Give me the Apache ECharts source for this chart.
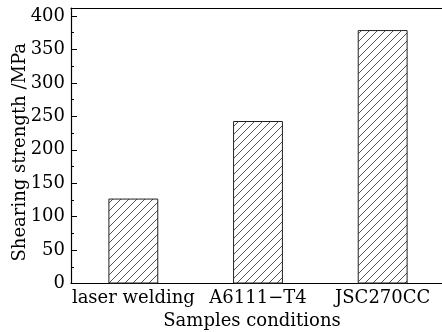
<!DOCTYPE html>
<html>
<head>
<meta charset="utf-8">
<script src="https://cdn.jsdelivr.net/npm/echarts@6/dist/echarts.min.js"></script>
<style>html,body{margin:0;padding:0;background:#fff}#c{width:442px;height:332px}</style>
</head>
<body>
<div id="c"></div>
<script>
const categories = ['laser welding', 'A6111\u2212T4', 'JSC270CC'];
const strengthValues = [127, 243, 379];
const yTickValues = [0, 50, 100, 150, 200, 250, 300, 350, 400];
const yAxisTitle = 'Shearing strength /MPa';
const xAxisTitle = 'Samples conditions';

const FONT = 'DejaVu Serif';

function hatch() {
  const c = document.createElement('canvas');
  c.width = 8; c.height = 8;
  const ctx = c.getContext('2d');
  ctx.fillStyle = '#fff';
  ctx.fillRect(0, 0, 8, 8);
  ctx.strokeStyle = '#555';
  ctx.lineWidth = 1;
  ctx.beginPath();
  ctx.moveTo(-1, 9); ctx.lineTo(9, -1);
  ctx.moveTo(-1, 1); ctx.lineTo(1, -1);
  ctx.moveTo(7, 9); ctx.lineTo(9, 7);
  ctx.stroke();
  return c;
}

const chart = echarts.init(document.getElementById('c'), null, {renderer: 'canvas'});
const txt = {fontFamily: FONT, fontSize: 18, color: '#000'};
chart.setOption({
  animation: false,
  backgroundColor: '#fff',
  grid: {left: 71, right: -3, top: 8, bottom: 48.5, containLabel: false, outerBoundsMode: 'none'},
  xAxis: [
    {
      type: 'category', data: categories, position: 'bottom',
      axisLine: {lineStyle: {color: '#000', width: 1.2}},
      axisTick: {inside: true, length: 4, lineStyle: {color: '#000'}},
      axisLabel: Object.assign({margin: 6, interval: 0}, txt),
      name: xAxisTitle, nameLocation: 'middle', nameGap: 26,
      nameTextStyle: Object.assign({padding: [0, 12, 0, 0]}, txt)
    },
    {
      type: 'category', data: categories, position: 'bottom',
      axisLine: {show: false},
      axisTick: {inside: true, alignWithLabel: true, length: 4, lineStyle: {color: '#000'}},
      axisLabel: {show: false}
    },
    {
      type: 'category', data: categories, position: 'top',
      axisLine: {lineStyle: {color: '#000', width: 1.2}},
      axisTick: {show: false}, axisLabel: {show: false}
    }
  ],
  yAxis: [{
    type: 'value', min: yTickValues[0], max: 412, interval: yTickValues[1] - yTickValues[0],
    axisLine: {show: true, lineStyle: {color: '#000', width: 1.2}},
    axisTick: {show: true, inside: true, length: 6, lineStyle: {color: '#000'}},
    minorTick: {show: true, splitNumber: 2, length: 3, lineStyle: {color: '#000'}},
    splitLine: {show: false},
    axisLabel: Object.assign({margin: 6, showMaxLabel: false}, txt),
    name: yAxisTitle, nameLocation: 'middle', nameGap: 42, nameMoveOverlap: false,
    nameTextStyle: Object.assign({padding: [0, 13, 0, 0]}, txt)
  }],
  series: [{
    type: 'bar', data: strengthValues, barWidth: '40%',
    xAxisIndex: 0, yAxisIndex: 0,
    itemStyle: {color: {image: hatch(), repeat: 'repeat'}, borderColor: '#222', borderWidth: 1}
  }]
});
</script>
</body>
</html>
